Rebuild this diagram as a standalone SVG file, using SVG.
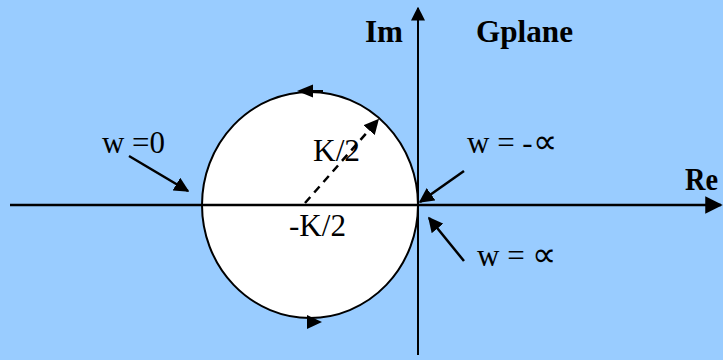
<svg xmlns="http://www.w3.org/2000/svg" width="723" height="360" viewBox="0 0 723 360">
<defs>
<style>
.t{font-family:"Liberation Serif","Times New Roman",serif;font-size:31px;fill:#000}
.b{font-family:"Liberation Serif","Times New Roman",serif;font-size:31px;font-weight:bold;fill:#000}
.ln{stroke:#000;stroke-width:2.5;fill:none}
</style>
<marker id="ah" viewBox="0 0 10 10" refX="9" refY="5" markerWidth="6" markerHeight="6" markerUnits="strokeWidth" orient="auto">
<path d="M0,0 L10,5 L0,10 z" fill="#000"/>
</marker>
<marker id="ahs" viewBox="0 0 10 10" refX="9" refY="5" markerWidth="7" markerHeight="7" markerUnits="strokeWidth" orient="auto">
<path d="M0,0 L10,5 L0,10 z" fill="#000"/>
</marker>
</defs>
<rect width="723" height="360" fill="#99CCFF"/>
<g id="circle">
<ellipse cx="310" cy="205" rx="108" ry="113" fill="#fff" stroke="#000" stroke-width="2"/>
</g>
<g id="connectors">
<line x1="10" y1="205" x2="721" y2="205" class="ln" marker-end="url(#ahs)"/>
<line x1="418" y1="355" x2="418" y2="8" stroke="#000" stroke-width="2" marker-end="url(#ahs)"/>
<line x1="305" y1="203" x2="378" y2="120" stroke="#000" stroke-width="2.5" stroke-dasharray="8,6" marker-end="url(#ah)"/>
<line x1="129" y1="156" x2="188" y2="191" class="ln" marker-end="url(#ah)"/>
<line x1="464" y1="171" x2="420" y2="202" class="ln" marker-end="url(#ah)"/>
<line x1="464" y1="261" x2="429" y2="218" class="ln" marker-end="url(#ah)"/>
<path d="M323,91 L312,91" stroke="#000" stroke-width="2"/>
<path d="M297,91 L313,84.5 L313,97.5 z" fill="#000"/>
<path d="M322,322 L307,315 L307,329 z" fill="#000"/>
</g>
<g id="labels">
<text class="b" x="365" y="42" textLength="38" lengthAdjust="spacingAndGlyphs">Im</text>
<text class="b" x="476" y="42" textLength="97" lengthAdjust="spacingAndGlyphs">Gplane</text>
<text class="b" x="685" y="190" textLength="33" lengthAdjust="spacingAndGlyphs">Re</text>
<text class="t" x="313" y="161" textLength="47" lengthAdjust="spacingAndGlyphs">K/2</text>
<text class="t" x="289" y="236" textLength="57" lengthAdjust="spacingAndGlyphs">-K/2</text>
<text class="t" x="102" y="153" textLength="63" lengthAdjust="spacingAndGlyphs">w =0</text>
<text class="t" x="467" y="153">w = -<tspan font-size="34">∝</tspan></text>
<text class="t" x="477" y="266">w = <tspan font-size="34">∝</tspan></text>
</g>
</svg>
